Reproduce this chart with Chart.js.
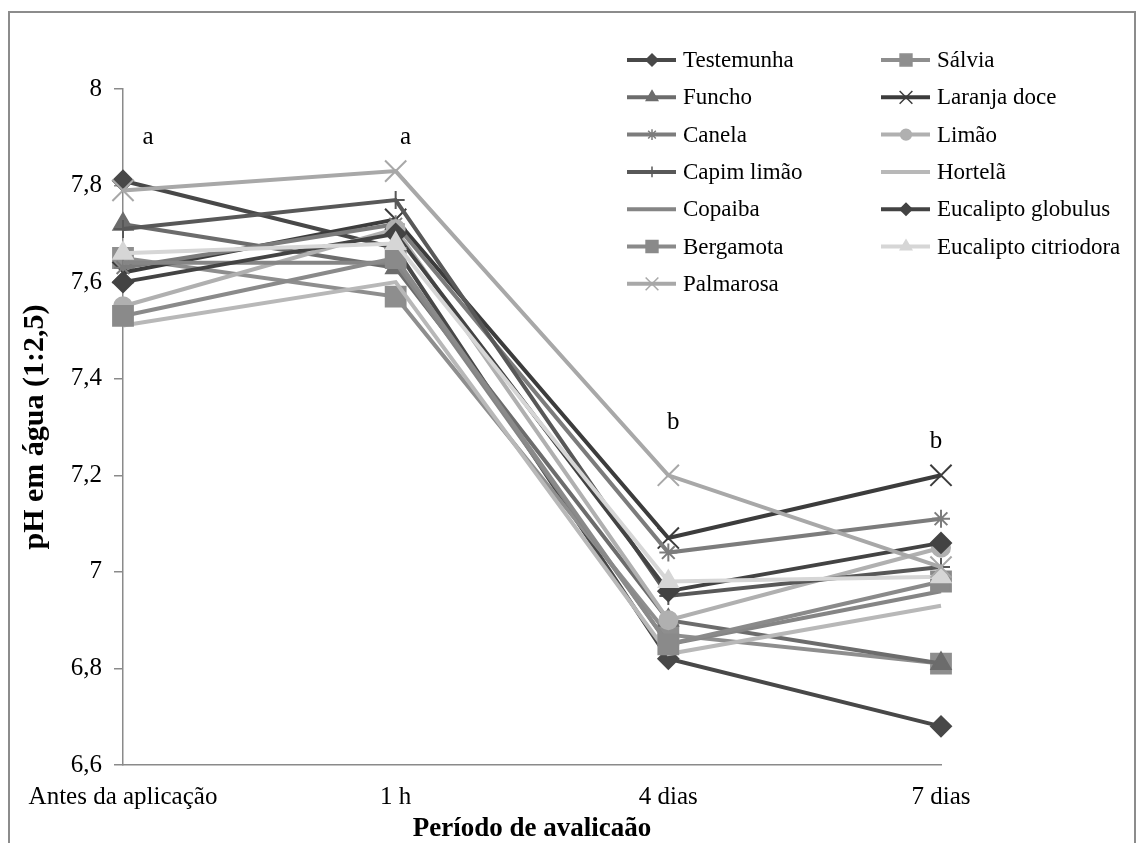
<!DOCTYPE html>
<html>
<head>
<meta charset="utf-8">
<script src="https://cdn.jsdelivr.net/npm/chart.js@4.4.1/dist/chart.umd.min.js"></script>
<style>
  html, body { margin: 0; padding: 0; background: #fff; overflow: hidden; }
  #wrap { position: relative; width: 1144px; height: 843px; }
  #frame { position: absolute; left: 8px; top: 11px; width: 1128px; height: 900px; border: 2px solid #8c8c8c; box-sizing: border-box; }
  canvas { position: absolute; left: 0; top: 0; }
</style>
</head>
<body>
<div id="wrap">
  <div id="frame"></div>
  <canvas id="grafico" width="1144" height="843"></canvas>
</div>
<script>
// pH em agua ao longo do periodo de avaliacao, por oleo essencial
const periodos = ['Antes da aplicação', '1 h', '4 dias', '7 dias']

const testemunha = [7.81, 7.67, 6.82, 6.68]
const salvia = [7.65, 7.57, 6.87, 6.81]
const funcho = [7.72, 7.63, 6.90, 6.81]
const laranjaDoce = [7.62, 7.73, 7.07, 7.20]
const canela = [7.63, 7.72, 7.04, 7.11]
const limao = [7.55, 7.71, 6.90, 7.05]
const capimLimao = [7.71, 7.77, 6.95, 7.01]
const hortela = [7.51, 7.60, 6.83, 6.93]
const copaiba = [7.64, 7.64, 6.85, 6.96]
const eucaliptoGlobulus = [7.60, 7.70, 6.96, 7.06]
const bergamota = [7.53, 7.65, 6.85, 6.98]
const eucaliptoCitriodora = [7.66, 7.68, 6.98, 6.99]
const palmarosa = [7.79, 7.83, 7.20, 7.01]

// letras de significancia acima de cada periodo
const letras = ['a', 'a', 'b', 'b']
const letrasY = [7.9, 7.9, 7.31, 7.27]

const yTicks = [6.6, 6.8, 7, 7.2, 7.4, 7.6, 7.8, 8]

const serif = 'Liberation Serif'

function serie(label, data, color, pointStyle, radius) {
  return {
    label,
    data,
    borderColor: color,
    backgroundColor: color,
    pointBackgroundColor: color,
    pointBorderColor: color,
    pointStyle: pointStyle || 'circle',
    pointRadius: radius || 0,
    pointHoverRadius: radius || 0,
    pointBorderWidth: 2,
    borderWidth: 4,
    tension: 0,
    fill: false
  }
}

const datasets = [
  serie('Testemunha', testemunha, '#484848', 'rectRot', 10),
  serie('Sálvia', salvia, '#8e8e8e', 'rect', 14),
  serie('Funcho', funcho, '#6c6c6c', 'triangle', 11),
  serie('Laranja doce', laranjaDoce, '#3c3c3c', 'crossRot', 15),
  serie('Canela', canela, '#7c7c7c', 'star', 9),
  serie('Limão', limao, '#b0b0b0', 'circle', 9),
  serie('Capim limão', capimLimao, '#585858', 'cross', 9),
  serie('Hortelã', hortela, '#b8b8b8'),
  serie('Copaiba', copaiba, '#858585'),
  serie('Eucalipto globulus', eucaliptoGlobulus, '#434343', 'rectRot', 10),
  serie('Bergamota', bergamota, '#8a8a8a', 'rect', 14),
  serie('Eucalipto citriodora', eucaliptoCitriodora, '#d6d6d6', 'triangle', 11),
  serie('Palmarosa', palmarosa, '#a8a8a8', 'crossRot', 15)
]
// como no Excel: a ultima serie fica por cima
datasets.forEach((ds, i) => { ds.order = datasets.length - i })

// legenda em duas colunas no canto superior direito
const legendaPlugin = {
  id: 'legendaGrade',
  afterDraw(chart) {
    const ctx = chart.ctx
    const drawPoint = Chart.helpers && Chart.helpers.drawPoint
    chart.data.datasets.forEach((ds, i) => {
      const col = i % 2
      const row = Math.floor(i / 2)
      const x = col ? 881 : 627
      const y = 60 + row * 37.3
      ctx.save()
      ctx.strokeStyle = ds.borderColor
      ctx.lineWidth = 4
      ctx.beginPath()
      ctx.moveTo(x, y)
      ctx.lineTo(x + 49, y)
      ctx.stroke()
      if (ds.pointRadius > 0 && drawPoint) {
        ctx.fillStyle = ds.pointBackgroundColor
        ctx.strokeStyle = ds.pointBorderColor
        ctx.lineWidth = 1.5
        drawPoint(ctx, { pointStyle: ds.pointStyle, radius: ds.pointRadius * 0.6, rotation: 0, borderWidth: 1.5 }, x + 25, y)
      }
      ctx.fillStyle = '#000'
      ctx.font = `23px "${serif}"`
      ctx.textAlign = 'left'
      ctx.textBaseline = 'middle'
      ctx.fillText(ds.label, x + 56, y + 1)
      ctx.restore()
    })
  }
}

const letrasPlugin = {
  id: 'letras',
  afterDatasetsDraw(chart) {
    const { ctx, scales } = chart
    const desloc = [25, 10, 5, -5]
    ctx.save()
    ctx.fillStyle = '#000'
    ctx.font = `25px "${serif}"`
    ctx.textAlign = 'center'
    ctx.textBaseline = 'middle'
    letras.forEach((l, i) => {
      ctx.fillText(l, scales.x.getPixelForValue(i) + desloc[i], scales.y.getPixelForValue(letrasY[i]))
    })
    ctx.restore()
  }
}

new Chart(document.getElementById('grafico'), {
  type: 'line',
  data: { labels: periodos, datasets },
  options: {
    responsive: false,
    animation: false,
    events: [],
    layout: { padding: { top: 89, right: 203, bottom: 0, left: 0 } },
    plugins: { legend: { display: false }, tooltip: { enabled: false } },
    scales: {
      x: {
        offset: false,
        grid: { display: false, drawTicks: false },
        border: { display: true, color: '#8a8a8a', width: 1.5 },
        ticks: { color: '#000', font: { family: serif, size: 25 }, padding: 17, maxRotation: 0, autoSkip: false },
        title: {
          display: true,
          text: 'Período de avalicaão',
          color: '#000',
          font: { family: serif, size: 27, weight: 'bold', lineHeight: 1 },
          padding: { top: 0, bottom: 0 }
        },
        afterFit: (s) => { s.height = 78 }
      },
      y: {
        min: 6.6,
        max: 8,
        afterBuildTicks: (s) => { s.ticks = yTicks.map((v) => ({ value: v })) },
        grid: { display: true, drawOnChartArea: false, drawTicks: true, tickLength: 9, color: '#8a8a8a', lineWidth: 1.5 },
        border: { display: true, color: '#8a8a8a', width: 1.5 },
        ticks: {
          color: '#000',
          font: { family: serif, size: 25 },
          padding: 12,
          callback: (v) => String(Number(v.toFixed(1))).replace('.', ',')
        },
        title: {
          display: true,
          text: 'pH em água (1:2,5)',
          color: '#000',
          font: { family: serif, size: 30, weight: 'bold', lineHeight: 1 },
          padding: { top: 20, bottom: 0 }
        },
        afterFit: (s) => { s.width = 123 }
      }
    }
  },
  plugins: [letrasPlugin, legendaPlugin]
})
</script>
</body>
</html>
